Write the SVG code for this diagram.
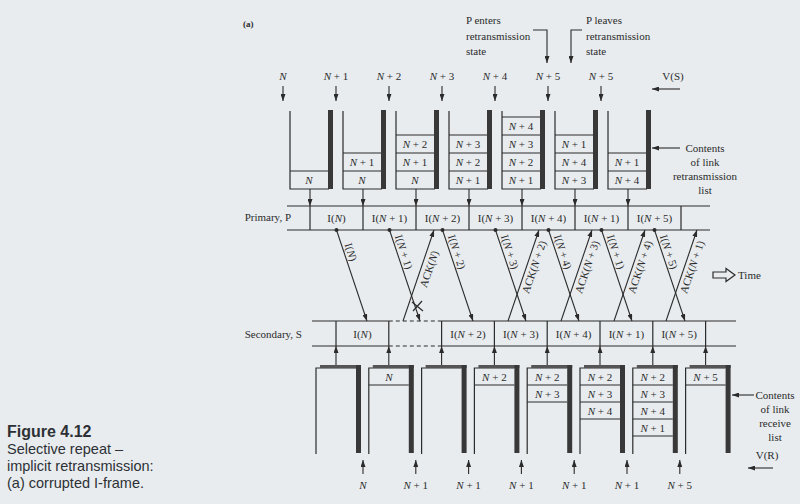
<svg xmlns="http://www.w3.org/2000/svg" width="800" height="504" viewBox="0 0 800 504">
<defs>
<marker id="ah" viewBox="0 0 10 10" refX="10" refY="5" markerWidth="7" markerHeight="5" markerUnits="userSpaceOnUse" orient="auto" preserveAspectRatio="none"><path d="M0,0 L10,5 L0,10 z" fill="#2b2b2b"/></marker>
<style>
.ln{stroke:#2b2b2b;stroke-width:1.2;fill:none}
.ar{stroke:#2b2b2b;stroke-width:1.1;fill:none;marker-end:url(#ah)}
.dash{stroke:#2b2b2b;stroke-width:1.2;fill:none;stroke-dasharray:4 3}
.wall{fill:#383838}
.band{fill:#555}
.t{font-family:"Liberation Serif",serif;font-size:11px;fill:#2b2b2b}
.m{text-anchor:middle}
.e{text-anchor:end}
.i{font-style:italic}
.cap{font-family:"Liberation Sans",sans-serif;font-size:14.5px;fill:#2d3135}
</style>
</defs>
<rect width="800" height="504" fill="#e8ecef"/>

<text class="t" x="243" y="27" style="font-weight:bold;font-size:9px">(a)</text>

<!-- top labels -->
<g id="top-labels">
<text class="t" x="466" y="24" font-size="10.5">P enters</text>
<text class="t" x="466" y="40" font-size="10.5">retransmission</text>
<text class="t" x="466" y="55" font-size="10.5">state</text>
<text class="t" x="586" y="24" font-size="10.5">P leaves</text>
<text class="t" x="586" y="40" font-size="10.5">retransmission</text>
<text class="t" x="586" y="55" font-size="10.5">state</text>
<text class="t m" x="283" y="80"><tspan class="i">N</tspan></text>
<text class="t m" x="336" y="80"><tspan class="i">N</tspan> + 1</text>
<text class="t m" x="389" y="80"><tspan class="i">N</tspan> + 2</text>
<text class="t m" x="442" y="80"><tspan class="i">N</tspan> + 3</text>
<text class="t m" x="495" y="80"><tspan class="i">N</tspan> + 4</text>
<text class="t m" x="548" y="80"><tspan class="i">N</tspan> + 5</text>
<text class="t m" x="601" y="80"><tspan class="i">N</tspan> + 5</text>
<text class="t m" x="673" y="80" font-size="10">V(S)</text>
<text class="t m" x="705" y="152" font-size="10.5">Contents</text>
<text class="t m" x="705" y="166" font-size="10.5">of link</text>
<text class="t m" x="705" y="180" font-size="10.5">retransmission</text>
<text class="t m" x="705" y="194" font-size="10.5">list</text>
<text class="t e" x="291" y="221" font-size="10">Primary, P</text>
<text class="t e" x="302" y="338" font-size="10">Secondary, S</text>
<text class="t" x="738" y="279">Time</text>
<polygon class="ln" points="713,272 726,272 726,268.5 735,275 726,281.5 726,278 713,278"/>
</g>

<!-- transmit buffers -->
<g id="txbuf-0">
<path class="ln" d="M290,111 V189 H329"/><rect class="wall" x="328" y="110" width="5" height="79"/>
<path class="ln" d="M290,171 H328"/>
<text class="t m" x="309" y="184"><tspan class="i">N</tspan></text>
</g>
<g id="txbuf-1">
<path class="ln" d="M343,111 V189 H382"/><rect class="wall" x="381" y="110" width="5" height="79"/>
<path class="ln" d="M343,171 H381 M343,153 H381"/>
<text class="t m" x="362" y="184"><tspan class="i">N</tspan></text>
<text class="t m" x="362" y="166"><tspan class="i">N</tspan> + 1</text>
</g>
<g id="txbuf-2">
<path class="ln" d="M396,111 V189 H435"/><rect class="wall" x="434" y="110" width="5" height="79"/>
<path class="ln" d="M396,171 H434 M396,153 H434 M396,135 H434"/>
<text class="t m" x="415" y="184"><tspan class="i">N</tspan></text>
<text class="t m" x="415" y="166"><tspan class="i">N</tspan> + 1</text>
<text class="t m" x="415" y="148"><tspan class="i">N</tspan> + 2</text>
</g>
<g id="txbuf-3">
<path class="ln" d="M449,111 V189 H488"/><rect class="wall" x="487" y="110" width="5" height="79"/>
<path class="ln" d="M449,171 H487 M449,153 H487 M449,135 H487"/>
<text class="t m" x="468" y="184"><tspan class="i">N</tspan> + 1</text>
<text class="t m" x="468" y="166"><tspan class="i">N</tspan> + 2</text>
<text class="t m" x="468" y="148"><tspan class="i">N</tspan> + 3</text>
</g>
<g id="txbuf-4">
<path class="ln" d="M502,111 V189 H541"/><rect class="wall" x="540" y="110" width="5" height="79"/>
<path class="ln" d="M502,171 H540 M502,153 H540 M502,135 H540 M502,117 H540"/>
<text class="t m" x="521" y="184"><tspan class="i">N</tspan> + 1</text>
<text class="t m" x="521" y="166"><tspan class="i">N</tspan> + 2</text>
<text class="t m" x="521" y="148"><tspan class="i">N</tspan> + 3</text>
<text class="t m" x="521" y="130"><tspan class="i">N</tspan> + 4</text>
</g>
<g id="txbuf-5">
<path class="ln" d="M555,111 V189 H594"/><rect class="wall" x="593" y="110" width="5" height="79"/>
<path class="ln" d="M555,171 H593 M555,153 H593 M555,135 H593"/>
<text class="t m" x="574" y="184"><tspan class="i">N</tspan> + 3</text>
<text class="t m" x="574" y="166"><tspan class="i">N</tspan> + 4</text>
<text class="t m" x="574" y="148"><tspan class="i">N</tspan> + 1</text>
</g>
<g id="txbuf-6">
<path class="ln" d="M608,111 V189 H647"/><rect class="wall" x="646" y="110" width="5" height="79"/>
<path class="ln" d="M608,171 H646 M608,153 H646"/>
<text class="t m" x="627" y="184"><tspan class="i">N</tspan> + 4</text>
<text class="t m" x="627" y="166"><tspan class="i">N</tspan> + 1</text>
</g>

<!-- primary bar -->
<g id="primary">
<path class="ln" d="M287,206 H710 M287,230 H710"/>
<path class="ln" d="M310,206 V230 M363,206 V230 M416,206 V230 M469,206 V230 M522,206 V230 M575,206 V230 M628,206 V230 M681,206 V230"/>
<text class="t m" x="336.5" y="222">I(<tspan class="i">N</tspan>)</text>
<text class="t m" x="389.5" y="222">I(<tspan class="i">N</tspan> + 1)</text>
<text class="t m" x="442.5" y="222">I(<tspan class="i">N</tspan> + 2)</text>
<text class="t m" x="495.5" y="222">I(<tspan class="i">N</tspan> + 3)</text>
<text class="t m" x="548.5" y="222">I(<tspan class="i">N</tspan> + 4)</text>
<text class="t m" x="601.5" y="222">I(<tspan class="i">N</tspan> + 1)</text>
<text class="t m" x="654.5" y="222">I(<tspan class="i">N</tspan> + 5)</text>
<g fill="#2b2b2b">
<circle cx="336.5" cy="230" r="2"/><circle cx="389.5" cy="230" r="2"/><circle cx="442.5" cy="230" r="2"/><circle cx="495.5" cy="230" r="2"/><circle cx="548.5" cy="230" r="2"/><circle cx="601.5" cy="230" r="2"/><circle cx="654.5" cy="230" r="2"/>
</g>
</g>

<!-- secondary bar -->
<g id="secondary">
<path class="ln" d="M312,321 H388.8 M441.6,321 H736 M312,346 H388.8 M441.6,346 H736"/>
<path class="dash" d="M388.8,321 H441.6 M388.8,346 H441.6"/>
<path class="ln" d="M336,321 V346 M388.8,321 V346 M441.6,321 V346 M494.4,321 V346 M547.2,321 V346 M600,321 V346 M652.8,321 V346 M705.6,321 V346"/>
<text class="t m" x="362.4" y="338">I(<tspan class="i">N</tspan>)</text>
<text class="t m" x="468" y="338">I(<tspan class="i">N</tspan> + 2)</text>
<text class="t m" x="520.8" y="338">I(<tspan class="i">N</tspan> + 3)</text>
<text class="t m" x="573.6" y="338">I(<tspan class="i">N</tspan> + 4)</text>
<text class="t m" x="626.4" y="338">I(<tspan class="i">N</tspan> + 1)</text>
<text class="t m" x="679.2" y="338">I(<tspan class="i">N</tspan> + 5)</text>
</g>

<!-- receive buffers -->
<g id="rxbuf-0">
<path class="ln" d="M316,454 V368 H356"/><rect class="band" x="320" y="365" width="41" height="3"/><rect class="wall" x="356" y="365" width="5" height="88"/>
</g>
<g id="rxbuf-1">
<path class="ln" d="M368.8,454 V368 H408.8"/><rect class="band" x="372.8" y="365" width="41" height="3"/><rect class="wall" x="408.8" y="365" width="5" height="88"/>
<path class="ln" d="M368.8,385 H408.8"/>
<text class="t m" x="388.8" y="380.5"><tspan class="i">N</tspan></text>
</g>
<g id="rxbuf-2">
<path class="ln" d="M421.6,454 V368 H461.6"/><rect class="band" x="425.6" y="365" width="41" height="3"/><rect class="wall" x="461.6" y="365" width="5" height="88"/>
</g>
<g id="rxbuf-3">
<path class="ln" d="M474.4,454 V368 H514.4"/><rect class="band" x="478.4" y="365" width="41" height="3"/><rect class="wall" x="514.4" y="365" width="5" height="88"/>
<path class="ln" d="M474.4,385 H514.4"/>
<text class="t m" x="494.4" y="380.5"><tspan class="i">N</tspan> + 2</text>
</g>
<g id="rxbuf-4">
<path class="ln" d="M527.2,454 V368 H567.2"/><rect class="band" x="531.2" y="365" width="41" height="3"/><rect class="wall" x="567.2" y="365" width="5" height="88"/>
<path class="ln" d="M527.2,385 H567.2 M527.2,402 H567.2"/>
<text class="t m" x="547.2" y="380.5"><tspan class="i">N</tspan> + 2</text>
<text class="t m" x="547.2" y="397.5"><tspan class="i">N</tspan> + 3</text>
</g>
<g id="rxbuf-5">
<path class="ln" d="M580,454 V368 H620"/><rect class="band" x="584" y="365" width="41" height="3"/><rect class="wall" x="620" y="365" width="5" height="88"/>
<path class="ln" d="M580,385 H620 M580,402 H620 M580,419 H620"/>
<text class="t m" x="600" y="380.5"><tspan class="i">N</tspan> + 2</text>
<text class="t m" x="600" y="397.5"><tspan class="i">N</tspan> + 3</text>
<text class="t m" x="600" y="414.5"><tspan class="i">N</tspan> + 4</text>
</g>
<g id="rxbuf-6">
<path class="ln" d="M632.8,454 V368 H672.8"/><rect class="band" x="636.8" y="365" width="41" height="3"/><rect class="wall" x="672.8" y="365" width="5" height="88"/>
<path class="ln" d="M632.8,385 H672.8 M632.8,402 H672.8 M632.8,419 H672.8 M632.8,436 H672.8"/>
<text class="t m" x="652.8" y="380.5"><tspan class="i">N</tspan> + 2</text>
<text class="t m" x="652.8" y="397.5"><tspan class="i">N</tspan> + 3</text>
<text class="t m" x="652.8" y="414.5"><tspan class="i">N</tspan> + 4</text>
<text class="t m" x="652.8" y="431.5"><tspan class="i">N</tspan> + 1</text>
</g>
<g id="rxbuf-7">
<path class="ln" d="M685.6,454 V368 H725.6"/><rect class="band" x="689.6" y="365" width="41" height="3"/><rect class="wall" x="725.6" y="365" width="5" height="88"/>
<path class="ln" d="M685.6,385 H725.6"/>
<text class="t m" x="705.6" y="380.5"><tspan class="i">N</tspan> + 5</text>
</g>

<g id="bottom-labels">
<text class="t m" x="363" y="489"><tspan class="i">N</tspan></text>
<text class="t m" x="415.8" y="489"><tspan class="i">N</tspan> + 1</text>
<text class="t m" x="468.6" y="489"><tspan class="i">N</tspan> + 1</text>
<text class="t m" x="521.4" y="489"><tspan class="i">N</tspan> + 1</text>
<text class="t m" x="574.2" y="489"><tspan class="i">N</tspan> + 1</text>
<text class="t m" x="627" y="489"><tspan class="i">N</tspan> + 1</text>
<text class="t m" x="679.8" y="489"><tspan class="i">N</tspan> + 5</text>
<text class="t m" x="775" y="399" font-size="10.5">Contents</text>
<text class="t m" x="775" y="413" font-size="10.5">of link</text>
<text class="t m" x="775" y="427" font-size="10.5">receive</text>
<text class="t m" x="775" y="441" font-size="10.5">list</text>
<text class="t m" x="767" y="459" font-size="10">V(R)</text>
</g>

<!-- frame labels on diagonals -->
<g id="frame-labels">
<text class="t m" transform="translate(351,252) rotate(71.8)" dy="0.35em">I(<tspan class="i">N</tspan>)</text>
<text class="t m" transform="translate(404,252) rotate(71.8)" dy="0.35em">I(<tspan class="i">N</tspan> + 1)</text>
<text class="t m" transform="translate(457,252) rotate(71.8)" dy="0.35em">I(<tspan class="i">N</tspan> + 2)</text>
<text class="t m" transform="translate(510,252) rotate(71.8)" dy="0.35em">I(<tspan class="i">N</tspan> + 3)</text>
<text class="t m" transform="translate(563,252) rotate(71.8)" dy="0.35em">I(<tspan class="i">N</tspan> + 4)</text>
<text class="t m" transform="translate(616,252) rotate(71.8)" dy="0.35em">I(<tspan class="i">N</tspan> + 1)</text>
<text class="t m" transform="translate(669,252) rotate(71.8)" dy="0.35em">I(<tspan class="i">N</tspan> + 5)</text>
<text class="t m" transform="translate(429,269) rotate(-71.2)" dy="0.35em">ACK(<tspan class="i">N</tspan>)</text>
<text class="t m" transform="translate(534,267) rotate(-71.2)" dy="0.35em">ACK(<tspan class="i">N</tspan> + 2)</text>
<text class="t m" transform="translate(587,267) rotate(-71.2)" dy="0.35em">ACK(<tspan class="i">N</tspan> + 3)</text>
<text class="t m" transform="translate(640,267) rotate(-71.2)" dy="0.35em">ACK(<tspan class="i">N</tspan> + 4)</text>
<text class="t m" transform="translate(692,267) rotate(-71.2)" dy="0.35em">ACK(<tspan class="i">N</tspan> + 1)</text>
</g>

<!-- connectors -->
<g id="connectors">
<path class="ar" d="M283,86 V101"/><path class="ar" d="M336,86 V101"/><path class="ar" d="M389,86 V101"/><path class="ar" d="M442,86 V101"/><path class="ar" d="M495,86 V101"/><path class="ar" d="M548,86 V101"/><path class="ar" d="M601,86 V101"/>
<path class="ar" d="M533,30 H547 V63"/>
<path class="ar" d="M582,30 H571 V63"/>
<path class="ar" d="M680,89 H652"/>
<path class="ar" d="M680,148 H652"/>
<path class="ar" d="M310,189 V206"/><path class="ar" d="M363,189 V206"/><path class="ar" d="M416,189 V206"/><path class="ar" d="M469,189 V206"/><path class="ar" d="M522,189 V206"/><path class="ar" d="M575,189 V206"/><path class="ar" d="M628,189 V206"/>
<path class="ar" d="M336.5,230 L367,321"/>
<path class="ar" d="M389.5,230 L420,321"/>
<path class="ln" d="M412,302 L423,311 M413,311 L422,301"/>
<path class="ar" d="M442.5,230 L473,321"/>
<path class="ar" d="M495.5,230 L526,321"/>
<path class="ar" d="M548.5,230 L579,321"/>
<path class="ar" d="M601.5,230 L632,321"/>
<path class="ar" d="M654.5,230 L685,321"/>
<path class="ar" d="M403,321 L434,230"/>
<path class="ar" d="M508,321 L539,230"/>
<path class="ar" d="M561,321 L592,230"/>
<path class="ar" d="M614,321 L645,230"/>
<path class="ar" d="M666,321 L697,230"/>
<path class="ar" d="M336,365 V346"/><path class="ar" d="M388.8,365 V346"/><path class="ar" d="M441.6,365 V346"/><path class="ar" d="M494.4,365 V346"/><path class="ar" d="M547.2,365 V346"/><path class="ar" d="M600,365 V346"/><path class="ar" d="M652.8,365 V346"/><path class="ar" d="M705.6,365 V346"/>
<path class="ar" d="M754,395 H732"/>
<path class="ar" d="M773,468 H748"/>
<path class="ar" d="M363,474 V460"/><path class="ar" d="M415.8,474 V460"/><path class="ar" d="M468.6,474 V460"/><path class="ar" d="M521.4,474 V460"/><path class="ar" d="M574.2,474 V460"/><path class="ar" d="M627,474 V460"/><path class="ar" d="M679.8,474 V460"/>
</g>

<!-- caption -->
<g id="caption">
<text class="cap" x="7" y="437" style="font-weight:bold;font-size:16px">Figure 4.12</text>
<text class="cap" x="7" y="454">Selective repeat –</text>
<text class="cap" x="7" y="471">implicit retransmission:</text>
<text class="cap" x="7" y="488">(a) corrupted I-frame.</text>
</g>
</svg>
